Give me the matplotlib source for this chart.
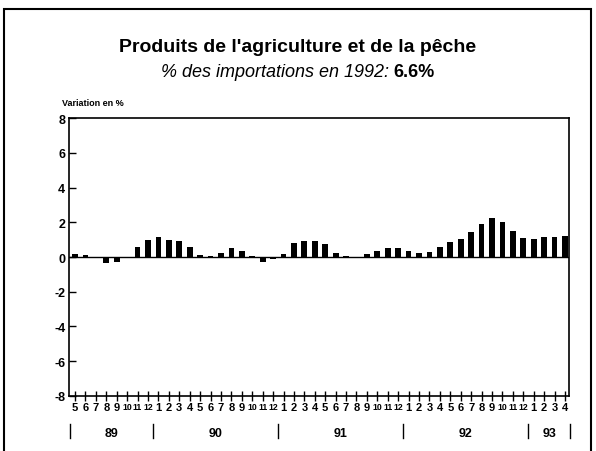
import numpy as np
import matplotlib.pyplot as plt
from matplotlib.patches import Rectangle

## Data: monthly variation (%), May 1989 -> April 1993

months = [5, 6, 7, 8, 9, 10, 11, 12] + list(range(1, 13)) * 3 + [1, 2, 3, 4]
years = ['89', '90', '91', '92', '93']
year_months = [8, 12, 12, 12, 4]
variation = [0.2, 0.1, -0.05, -0.35, -0.3, -0.05, 0.6, 1.0, 1.15, 0.95, 0.9, 0.6,
             0.1, 0.05, 0.25, 0.5, 0.35, 0.05, -0.3, -0.1, 0.15, 0.8, 0.9, 0.9,
             0.75, 0.25, 0.05, 0.0, 0.2, 0.35, 0.5, 0.5, 0.35, 0.25, 0.3, 0.6,
             0.85, 1.05, 1.45, 1.9, 2.25, 2.0, 1.5, 1.1, 1.05, 1.15, 1.15, 1.2]

plt.rcParams['font.family'] = ['Liberation Sans', 'DejaVu Sans']

## Plotting

fig = plt.figure(figsize=(5.96, 4.52), dpi=100)
ax = fig.add_axes([0.1166, 0.1217, 0.838, 0.615])

x = np.arange(len(variation))
ax.bar(x, variation, width=0.55, color='black')
ax.axhline(0, color='black', linewidth=1)

ax.set_xlim(-0.53, len(variation) - 1 + 0.38)
ax.set_ylim(-8, 8)
ax.set_yticks(np.arange(-8, 9, 2))
ax.set_yticklabels([str(v) for v in range(-8, 9, 2)], fontweight='bold', fontsize=9)
ax.set_xticks(x)
ax.set_xticklabels([str(m) for m in months], fontweight='bold', fontsize=8)
# two-digit months are squeezed, as in the original
for lab, m in zip(ax.get_xticklabels(), months):
    if m >= 10:
        lab.set_fontsize(6.3)
ax.tick_params(axis='x', direction='inout', length=7, width=1, pad=1)
ax.tick_params(axis='y', direction='in', length=5, width=1, pad=3)
for s in ax.spines.values():
    s.set_linewidth(1.2)

# year labels and separators below the month labels
start = 0
for yr, n in zip(years, year_months):
    ax.text(start + (n - 1) / 2, -0.133, yr, transform=ax.get_xaxis_transform(),
            ha='center', va='center', fontsize=9, fontweight='bold')
    start += n
bounds = np.cumsum([0] + year_months) - 0.5
for b in bounds:
    ax.plot([b, b], [-0.1, -0.15], transform=ax.get_xaxis_transform(),
            color='black', linewidth=1, clip_on=False)

fig.text(0.104, 0.77, 'Variation en %', fontsize=6.5, fontweight='bold',
         ha='left', va='center')

## Titles
fig.text(0.5, 0.895, "Produits de l'agriculture et de la pêche",
         ha='center', va='center', fontsize=14, fontweight='bold')
t1 = fig.text(0.5, 0.84, '% des importations en 1992: ', ha='right', va='center',
              fontsize=13, fontstyle='italic')
t2 = fig.text(0.5, 0.84, '6.6%', ha='left', va='center', fontsize=13, fontweight='bold')

# centre both parts of the subtitle together
fig.canvas.draw()
r = fig.canvas.get_renderer()
w1 = t1.get_window_extent(r).width / fig.bbox.width
w2 = t2.get_window_extent(r).width / fig.bbox.width
shift = (w1 - w2) / 2
t1.set_x(0.5 + shift)
t2.set_x(0.5 + shift)

# frame around the whole figure
fig.patches.append(Rectangle((0.006, -0.02), 0.985, 0.998, transform=fig.transFigure,
                             fill=False, edgecolor='black', linewidth=1.5))

fig.savefig('out.png', dpi=100)
